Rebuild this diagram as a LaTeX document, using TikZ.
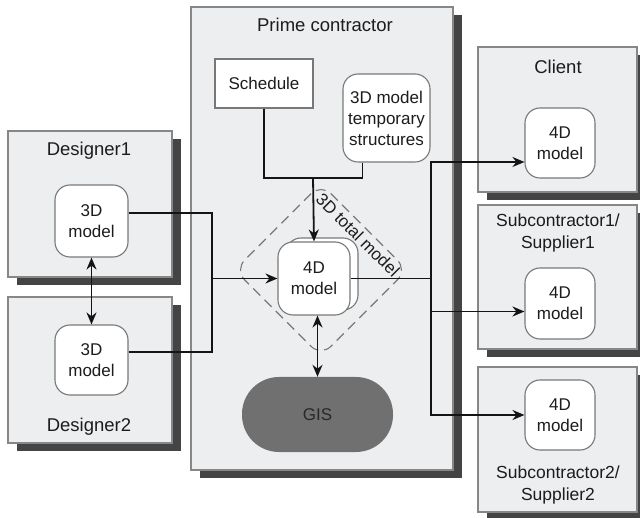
\documentclass[tikz,border=0pt]{standalone}
\usepackage{fontspec}
\setmainfont{Liberation Sans}
\usetikzlibrary{shadows,arrows.meta}
\definecolor{boxfill}{RGB}{237,238,239}
\definecolor{boxline}{RGB}{135,135,135}
\definecolor{modline}{RGB}{120,120,120}
\definecolor{shadowc}{RGB}{68,68,68}
\definecolor{gisfill}{RGB}{112,112,112}
\definecolor{txt}{RGB}{28,28,28}
\definecolor{dashc}{RGB}{120,120,120}
\tikzset{
  party/.style={draw=boxline, line width=1.1pt, fill=boxfill, rectangle, inner sep=0,
    drop shadow={shadow xshift=9pt, shadow yshift=-8pt, fill=shadowc, opacity=1}},
  model/.style={draw=modline, line width=1.1pt, fill=white, rounded corners=15pt,
    inner sep=0, align=center, text=txt},
  lbl/.style={align=center, text=txt, inner sep=0},
  title/.style={lbl, font=\fontsize{18.5}{22}\selectfont},
  conn/.style={line width=1.8pt, black!92},
  tip/.style={-{Stealth[length=12pt,width=10pt]}},
  dtip/.style={{Stealth[length=12pt,width=10pt]}-{Stealth[length=12pt,width=10pt]}},
}
\begin{document}
\begin{tikzpicture}[x=1pt,y=-1pt,font=\fontsize{17}{21}\selectfont]
\useasboundingbox (0,0) rectangle (640,518);
\clip (0,0) rectangle (640,518);
\fill[white] (0,0) rectangle (640,518);

% containers
\node[party, minimum width=262pt, minimum height=463pt] (prime) at (322,238.5) {};
\node[party, minimum width=164pt, minimum height=146pt] (des1) at (90,204) {};
\node[party, minimum width=164pt, minimum height=146pt] (des2) at (90,370) {};
\node[party, minimum width=159pt, minimum height=145pt] (client) at (557.5,119.5) {};
\node[party, minimum width=159pt, minimum height=144pt] (sub1) at (557.5,277) {};
\node[party, minimum width=159pt, minimum height=145pt] (sub2) at (557.5,439.5) {};

% container labels
\node[title] (primel) at (325,25) {Prime contractor};
\node[title] (des1l) at (89,151) {Designer1};
\node[title] (des2l) at (89,427) {Designer2};
\node[title] (clientl) at (558,67) {Client};
\node[lbl, font=\fontsize{17.5}{21.5}\selectfont] (sub1l) at (558,233) {Subcontractor1/\\Supplier1};
\node[lbl, font=\fontsize{17.5}{21.5}\selectfont] (sub2l) at (558,485) {Subcontractor2/\\Supplier2};

% dashed 3D total model
\node[draw=dashc, line width=1.1pt, dash pattern=on 10pt off 6pt, rounded corners=14pt,
  minimum size=122pt, rotate=45, inner sep=0] (total) at (321,270) {};
\node[lbl, rotate=-45] (totall) at (358,235) {3D total model};

% prime contractor content
\node[draw=modline, line width=1.1pt, fill=white, minimum width=98pt, minimum height=49pt,
  inner sep=0, text=txt] (sched) at (264,83.5) {Schedule};
\node[model, minimum width=87pt, minimum height=88pt] (temp) at (386.5,118)
  {3D model\\temporary\\structures};
\node[model, minimum width=72pt, minimum height=72pt] (m4b) at (322,274) {};
\node[model, minimum width=72pt, minimum height=73pt] (m4) at (314,278.5) {4D\\model};
\node[fill=gisfill, rounded corners=37pt, minimum width=151pt, minimum height=75pt,
  inner sep=0, text={rgb,255:red,40;green,40;blue,40}] (gis) at (317.5,414.5) {GIS};

% designer models
\node[model, minimum width=73pt, minimum height=72pt] (d1m) at (91.5,221) {3D\\model};
\node[model, minimum width=73pt, minimum height=70pt] (d2m) at (91.5,360) {3D\\model};

% receiver models
\node[model, minimum width=70pt, minimum height=70pt] (cm) at (560,143) {4D\\model};
\node[model, minimum width=70pt, minimum height=71pt] (s1m) at (560,303.5) {4D\\model};
\node[model, minimum width=70pt, minimum height=70pt] (s2m) at (560,415) {4D\\model};

% junctions
\coordinate (jt) at (313,178);
\coordinate (jl) at (212,278.5);
\coordinate (jr) at (431,278.5);

% connectors
\draw[conn] (sched.south) |- (jt);
\draw[conn] ([xshift=-24pt]temp.south) |- (jt);
\draw[conn, tip] (jt) -- (m4.north);

\draw[conn] ([yshift=8pt]d1m.east) -| (jl);
\draw[conn] ([yshift=8pt]d2m.east) -| (jl);
\draw[conn, tip] (jl) -- (m4.west);
\draw[conn, dtip] (d1m.south) -- (d2m.north);

\draw[conn] (m4.east) -- (jr);
\draw[conn, tip] (jr) |- ([yshift=-19pt]cm.west);
\draw[conn, tip] (jr) |- ([yshift=-8pt]s1m.west);
\draw[conn, tip] (jr) |- (s2m.west);

\draw[conn, dtip] (gis.north |- m4.south) -- (gis.north);
\end{tikzpicture}
\end{document}
